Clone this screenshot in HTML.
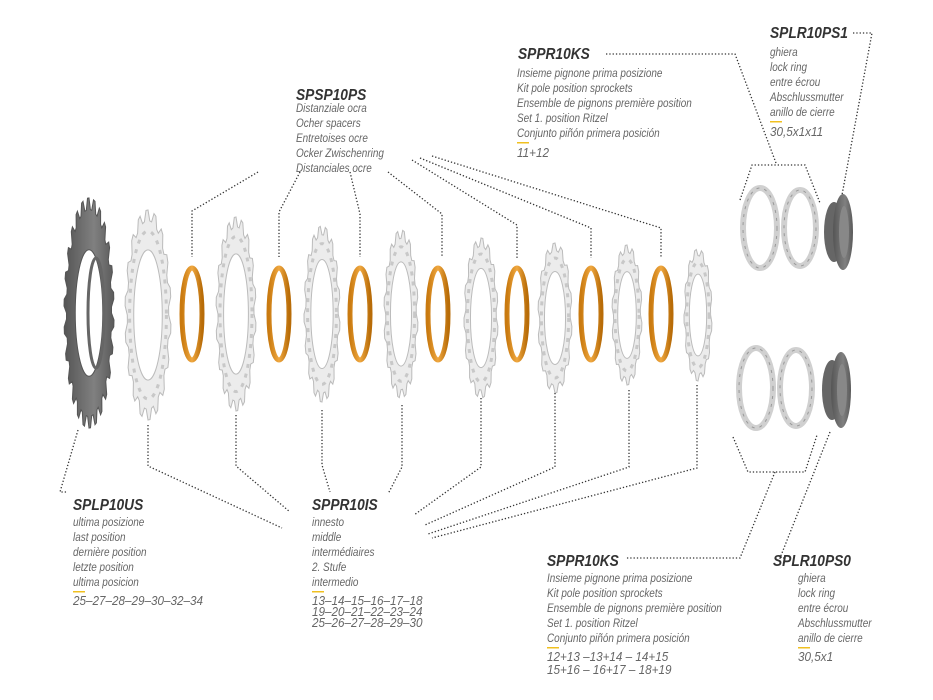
<!DOCTYPE html>
<html><head><meta charset="utf-8">
<style>
html,body{margin:0;padding:0;background:#fff;width:933px;height:700px;overflow:hidden}
svg{display:block}
.t{font-family:"Liberation Sans",sans-serif;font-style:italic;font-size:12px;fill:#666}
.n{font-family:"Liberation Sans",sans-serif;font-style:italic;font-size:13px;fill:#666}
.h{font-family:"Liberation Sans",sans-serif;font-style:italic;font-weight:bold;font-size:16px;fill:#333}
.d{fill:none;stroke:#333;stroke-width:1.3;stroke-dasharray:1.3 2}
</style></head><body>
<svg id="s" width="933" height="700" viewBox="0 0 933 700" xmlns="http://www.w3.org/2000/svg">
<defs>
<linearGradient id="og" x1="0" x2="1"><stop offset="0" stop-color="#c97a10"/><stop offset=".5" stop-color="#f0a840"/><stop offset="1" stop-color="#b86c08"/></linearGradient>
<linearGradient id="dg" x1="0" x2="1"><stop offset="0" stop-color="#555"/><stop offset=".6" stop-color="#808080"/><stop offset="1" stop-color="#5a5a5a"/></linearGradient>
</defs>
<g id="parts"></g>

<polyline class="d" points="258,172 192,211 192,257"/>
<polyline class="d" points="300,172 279,212 279,257"/>
<polyline class="d" points="350,172 360,214 360,257"/>
<polyline class="d" points="388,172 442,214 442,257"/>
<polyline class="d" points="412,160 517,225 517,258"/>
<polyline class="d" points="420,158 591,228 591,258"/>
<polyline class="d" points="432,156 661,228 661,258"/>
<polyline class="d" points="606,54 735,54 776,163"/>
<polyline class="d" points="740,200 752,165 805,165 820,203"/>
<polyline class="d" points="853,33 872,33 842,195"/>
<polyline class="d" points="78,430 60,492 68,492"/>
<polyline class="d" points="148,425 148,466 282,528"/>
<polyline class="d" points="236,415 236,466 290,512"/>
<polyline class="d" points="322,410 322,465 330,492"/>
<polyline class="d" points="402,405 402,467 388,494"/>
<polyline class="d" points="481,398 481,467 414,515"/>
<polyline class="d" points="555,393 555,467 425,525"/>
<polyline class="d" points="629,390 629,467 428,534"/>
<polyline class="d" points="697,385 697,468 432,538"/>
<polyline class="d" points="733,437 748,472 805,472 817,435"/>
<polyline class="d" points="775,472 740,558 625,558"/>
<polyline class="d" points="830,432 780,558 784,558"/>

<text class="h" x="296" y="100">SPSP10PS</text>
<text class="t" x="296" y="112">Distanziale ocra</text>
<text class="t" x="296" y="127">Ocher spacers</text>
<text class="t" x="296" y="142">Entretoises ocre</text>
<text class="t" x="296" y="157">Ocker Zwischenring</text>
<text class="t" x="296" y="172">Distanciales ocre</text>

<text class="h" x="518" y="59">SPPR10KS</text>
<text class="t" x="517" y="77">Insieme pignone prima posizione</text>
<text class="t" x="517" y="92">Kit pole position sprockets</text>
<text class="t" x="517" y="107">Ensemble de pignons première position</text>
<text class="t" x="517" y="122">Set 1. position Ritzel</text>
<text class="t" x="517" y="137">Conjunto piñón primera posición</text>
<rect x="517" y="142" width="12" height="1.5" fill="#f0c020"/>
<text class="n" x="517" y="157">11+12</text>

<text class="h" x="770" y="38">SPLR10PS1</text>
<text class="t" x="770" y="56">ghiera</text>
<text class="t" x="770" y="71">lock ring</text>
<text class="t" x="770" y="86">entre écrou</text>
<text class="t" x="770" y="101">Abschlussmutter</text>
<text class="t" x="770" y="116">anillo de cierre</text>
<rect x="770" y="121" width="12" height="1.5" fill="#f0c020"/>
<text class="n" x="770" y="136">30,5x1x11</text>

<text class="h" x="73" y="510">SPLP10US</text>
<text class="t" x="73" y="526">ultima posizione</text>
<text class="t" x="73" y="541">last position</text>
<text class="t" x="73" y="556">dernière position</text>
<text class="t" x="73" y="571">letzte position</text>
<text class="t" x="73" y="586">ultima posicion</text>
<rect x="73" y="591" width="12" height="1.5" fill="#f0c020"/>
<text class="n" x="73" y="605">25–27–28–29–30–32–34</text>

<text class="h" x="312" y="510">SPPR10IS</text>
<text class="t" x="312" y="526">innesto</text>
<text class="t" x="312" y="541">middle</text>
<text class="t" x="312" y="556">intermédiaires</text>
<text class="t" x="312" y="571">2. Stufe</text>
<text class="t" x="312" y="586">intermedio</text>
<rect x="312" y="591" width="12" height="1.5" fill="#f0c020"/>
<text class="n" x="312" y="605">13–14–15–16–17–18</text>
<text class="n" x="312" y="616">19–20–21–22–23–24</text>
<text class="n" x="312" y="627">25–26–27–28–29–30</text>

<text class="h" x="547" y="566">SPPR10KS</text>
<text class="t" x="547" y="582">Insieme pignone prima posizione</text>
<text class="t" x="547" y="597">Kit pole position sprockets</text>
<text class="t" x="547" y="612">Ensemble de pignons première position</text>
<text class="t" x="547" y="627">Set 1. position Ritzel</text>
<text class="t" x="547" y="642">Conjunto piñón primera posición</text>
<rect x="547" y="647" width="12" height="1.5" fill="#f0c020"/>
<text class="n" x="547" y="661">12+13 –13+14 – 14+15</text>
<text class="n" x="547" y="674">15+16 – 16+17 – 18+19</text>

<text class="h" x="773" y="566">SPLR10PS0</text>
<text class="t" x="798" y="582">ghiera</text>
<text class="t" x="798" y="597">lock ring</text>
<text class="t" x="798" y="612">entre écrou</text>
<text class="t" x="798" y="627">Abschlussmutter</text>
<text class="t" x="798" y="642">anillo de cierre</text>
<rect x="798" y="647" width="12" height="1.5" fill="#f0c020"/>
<text class="n" x="798" y="661">30,5x1</text>
</svg>
<script>
(function(){
var ts=document.querySelectorAll('text');
for(var i=0;i<ts.length;i++){var t=ts[i];var x0=parseFloat(t.getAttribute('x'));var c=t.getAttribute('class');var k=c=='h'?0.86:(c=='n'?0.9:0.83);
 t.setAttribute('transform','matrix('+k+',0,0,1,'+(x0*(1-k)).toFixed(2)+',0)');}
var g=document.getElementById('parts'),h='';
function gear(cx,cy,rx,ry,n,fill,stroke,sw,inner){
  var p=[];for(var i=0;i<n*4;i++){var a=i/(n*4)*Math.PI*2;var r=(i%4==1||i%4==2)?1:0.9;p.push((cx+Math.cos(a)*rx*r).toFixed(1)+','+(cy+Math.sin(a)*ry*r).toFixed(1));}
  h+='<polygon points="'+p.join(' ')+'" fill="'+fill+'" stroke="'+stroke+'" stroke-width="'+sw+'"/>';
  h+='<ellipse cx="'+cx+'" cy="'+cy+'" rx="'+(rx*inner)+'" ry="'+(ry*inner)+'" fill="#fff" stroke="'+stroke+'" stroke-width="1"/>';
}
gear(89,313,25,115,26,'url(#dg)','#555',1,0.55);
h+='<ellipse cx="96" cy="313" rx="8" ry="55" fill="none" stroke="#666" stroke-width="3"/>';
var sp=[[148,315,23,105,18],[236,314,20,97,18],[322,314,18,88,17],[401,314,17,84,16],[481,318,17,80,15],[555,318,17,75,14],[627,315,15,70,14],[698,315,14,66,13]];
sp.forEach(function(s){gear(s[0],s[1],s[2],s[3],s[4],'#ececec','#bbb',1,0.62);
 h+='<ellipse cx="'+s[0]+'" cy="'+s[1]+'" rx="'+(s[2]*0.8)+'" ry="'+(s[3]*0.8)+'" fill="none" stroke="#c8c8c8" stroke-width="3" stroke-dasharray="4 6"/>';});
[192,279,360,438,517,591,661].forEach(function(x){
 h+='<ellipse cx="'+x+'" cy="314" rx="10" ry="46" fill="none" stroke="url(#og)" stroke-width="5"/>';});
function ring(cx,cy,rx,ry){h+='<ellipse cx="'+cx+'" cy="'+cy+'" rx="'+rx+'" ry="'+ry+'" fill="none" stroke="#d0d0d0" stroke-width="6"/><ellipse cx="'+cx+'" cy="'+cy+'" rx="'+rx+'" ry="'+ry+'" fill="none" stroke="#999" stroke-width="1" stroke-dasharray="3 5"/>';}
ring(760,228,17,40);ring(800,228,16,38);ring(756,388,17,40);ring(796,388,16,38);
function lock(cx,cy){h+='<ellipse cx="'+(cx-4)+'" cy="'+cy+'" rx="10" ry="30" fill="#666"/><ellipse cx="'+(cx+5)+'" cy="'+cy+'" rx="10" ry="38" fill="url(#dg)"/><ellipse cx="'+(cx+6)+'" cy="'+cy+'" rx="5" ry="26" fill="#888"/>';}
lock(838,232);lock(836,390);
g.innerHTML=h;
})();
</script>
</body></html>
